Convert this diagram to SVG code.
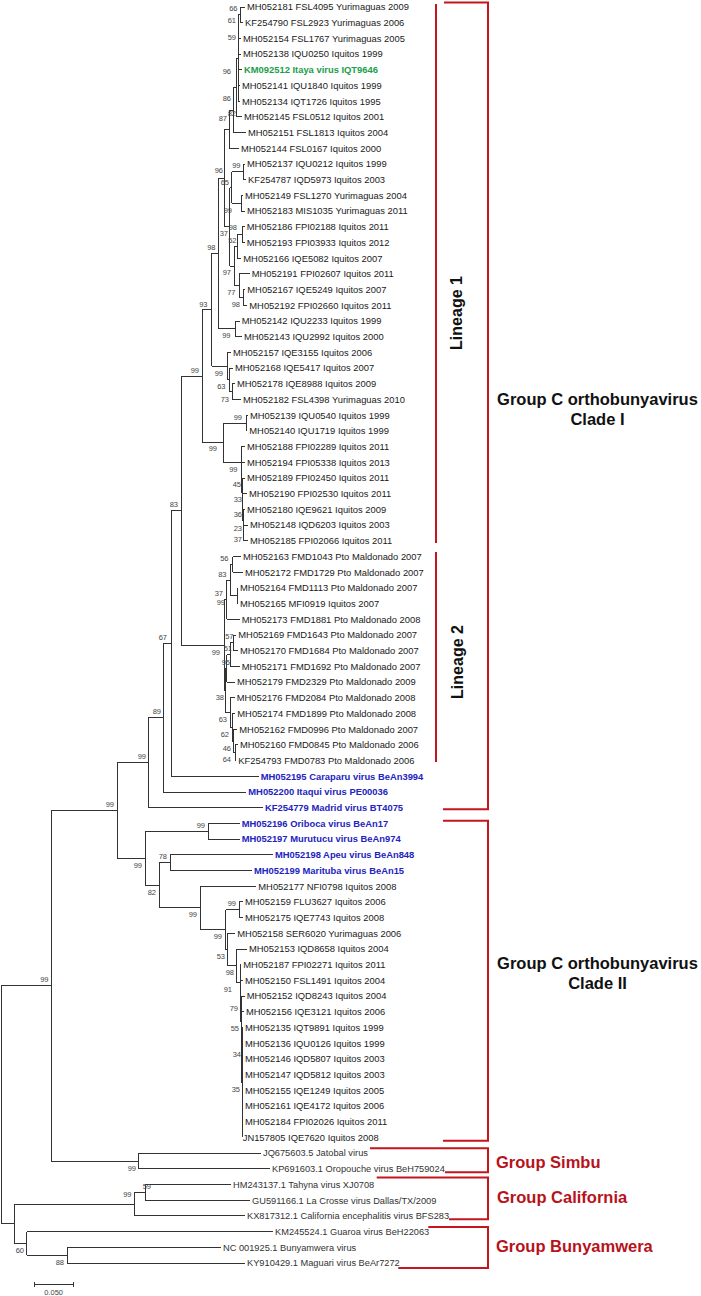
<svg xmlns="http://www.w3.org/2000/svg" width="701" height="1296" viewBox="0 0 701 1296">
<style>
text{font-family:"Liberation Sans",Arial,sans-serif}
.lf{font-size:9.4px;fill:#1a1a1a}
.lb{font-size:9.25px;fill:#333}
.bl{font-size:9.4px;font-weight:bold;fill:#2323c0}
.gr{font-size:9.4px;font-weight:bold;fill:#1a9e4a}
.bs{font-size:7.5px;fill:#444;text-anchor:end}
.grp{font-size:16.5px;font-weight:bold;fill:#111;text-anchor:middle}
.red{font-size:16.5px;font-weight:bold;fill:#b8121b}
.lin{font-size:16px;font-weight:bold;fill:#111;text-anchor:middle}
.br{fill:none;stroke:#c4161c;stroke-width:2}
</style>
<rect width="701" height="1296" fill="#fff"/>
<g id="connectors" fill="none" stroke="#333" stroke-width="1" shape-rendering="crispEdges">
<path d="M1,985.7V1223.8M1,985.7H51.3M1,1223.8H14
M51.3,810.5V1161M51.3,810.5H117M51.3,1161H138.3
M138.3,1153.1V1168.8M138.3,1153.1H261M138.3,1168.8H270
M14,1204.1V1243.4M14,1204.1H134M14,1243.4H26.7
M134,1192.4V1215.9M134,1192.4H145.3M134,1215.9H245
M145.3,1184.5V1200.2M145.3,1184.5H231M145.3,1200.2H250
M26.7,1231.6V1255.2M26.7,1231.6H273M26.7,1255.2H67
M67,1247.3V1263M67,1247.3H221M67,1263H245
M117,762.7V858.3M117,762.7H148.3M117,858.3H145.3
M148.3,717.7V807.7M148.3,717.7H163.3M148.3,807.7H263
M163.3,643.5V792M163.3,643.5H171M163.3,792H246.3
M171,510.6V776.3M171,510.6H181M171,776.3H258.7
M181,376.2V645.1M181,376.2H202M181,645.1H224.3
M202,309.8V442.6M202,309.8H211.5M202,442.6H223.3
M211.5,253.4V366.1M211.5,253.4H218.5M211.5,366.1H227
M218.5,178V328.9M218.5,178H224M218.5,328.9H235
M224,129.2V226.8M224,129.2H229M224,226.8H229.5
M229,110V148.3M229,110H233M229,148.3H239
M233,87.5V132.6M233,87.5H236M233,132.6H246
M236,58V116.9M236,58H238M236,116.9H242
M238,14.9V101.2M238,14.9H240M238,38.4H241M238,54.1H241M238,69.8H242M238,85.5H240M238,101.2H240
M240,7V22.7M240,7H245M240,22.7H243
M229.5,187.6V266.1M229.5,187.6H231.5M229.5,266.1H234
M231.5,171.9V203.3M231.5,171.9H243M231.5,203.3H241
M243,164V179.7M243,164H245M243,179.7H246
M241,195.4V211.1M241,195.4H243M241,211.1H245
M234,246.4V285.7M234,246.4H237M234,285.7H239
M237,234.7V258.2M237,234.7H242M237,258.2H241.3
M242,226.8V242.5M242,226.8H244.7M242,242.5H244.7
M239,273.9V297.5M239,273.9H249.7M239,297.5H243
M243,289.6V305.3M243,289.6H245.3M243,305.3H247.3
M235,321V336.7M235,321H239.7M235,336.7H242
M227,352.4V379.9M227,352.4H231M227,379.9H229
M229,368.1V391.7M229,368.1H233M229,391.7H232
M232,383.8V399.5M232,383.8H235M232,399.5H241
M223.3,423.1V462.1M223.3,423.1H246M223.3,462.1H241
M246,415.2V430.9M246,415.2H248M246,430.9H247.3
M241,446.6V477.5M241,446.6H245M241,477.5H241.5
M241.5,462.3V492.7M241.5,462.3H245M241.5,492.7H242
M242,478V507.4M242,478H245M242,507.4H242.5
M242.5,493.7V521.2M242.5,493.7H247M242.5,521.2H243
M243,509.4V533M243,509.4H245M243,533H243.5
M243.5,525.1V540.8M243.5,525.1H248M243.5,540.8H248
M224.3,599.7V690.4M224.3,599.7H226.5M224.3,690.4H225.5
M226.5,580.1V619.3M226.5,580.1H230M226.5,619.3H239.7
M230,564.4V595.8M230,564.4H232.5M230,595.8H237.5
M232.5,556.5V572.2M232.5,556.5H241M232.5,572.2H243
M237.5,587.9V603.6M237.5,587.9H238M237.5,603.6H238
M225.5,668.4V712.5M225.5,668.4H226.5M225.5,712.5H230
M226.5,654.6V682.1M226.5,654.6H230M226.5,682.1H235
M230,642.9V666.4M230,642.9H233M230,666.4H239.7
M233,635V650.7M233,635H236.3M233,650.7H238
M230,697.8V727.2M230,697.8H234.7M230,727.2H232
M232,713.5V741M232,713.5H235.3M232,741H233.5
M233.5,729.2V752.8M233.5,729.2H237.3M233.5,752.8H235
M235,744.9V760.6M235,744.9H238M235,760.6H236.3
M145.3,831.3V885.3M145.3,831.3H208.3M145.3,885.3H159.3
M208.3,823.4V839.1M208.3,823.4H239.7M208.3,839.1H239.7
M159.3,862.7V907.9M159.3,862.7H170.3M159.3,907.9H200.3
M170.3,854.8V870.5M170.3,854.8H273M170.3,870.5H252
M200.3,886.2V929.7M200.3,886.2H256.3M200.3,929.7H225.7
M225.7,909.8V949.6M225.7,909.8H239.3M225.7,949.6H227.5
M239.3,901.9V917.6M239.3,901.9H243M239.3,917.6H243
M227.5,933.3V965.9M227.5,933.3H235.3M227.5,965.9H236
M236,949V982.9M236,949H247M236,982.9H240
M240,964.7V1001M240,964.7H241.3M240,1001H240.5
M240.5,980.4V1021.6M240.5,980.4H243M240.5,1021.6H241
M241,996.1V1047.1M241,996.1H244.7M241,1047.1H241.5
M241.5,1011.8V1082.5M241.5,1011.8H244M241.5,1082.5H242
M242,1027.5V1137.4M242,1027.5H243M242,1043.2H243M242,1058.9H243M242,1074.6H243M242,1090.3H243M242,1106H243M242,1121.7H243"/>
</g>
<g id="scale-bar">
<path d="M34,1284.3H73.3M34,1281.5V1287M73.3,1281.5V1287" fill="none" stroke="#333" stroke-width="1" shape-rendering="crispEdges"/>
<text x="53.6" y="1295" style="font-size:7.5px;fill:#444;text-anchor:middle">0.050</text>
</g>
<g id="bootstrap">
<text class="bs" x="237.5" y="11">66</text>
<text class="bs" x="236" y="22.7">61</text>
<text class="bs" x="236" y="39.7">59</text>
<text class="bs" x="231" y="73.7">96</text>
<text class="bs" x="231" y="100.7">86</text>
<text class="bs" x="236" y="115.7">82</text>
<text class="bs" x="227" y="120.7">87</text>
<text class="bs" x="240.5" y="168">99</text>
<text class="bs" x="223" y="173">96</text>
<text class="bs" x="229" y="185">65</text>
<text class="bs" x="232" y="212.7">99</text>
<text class="bs" x="237" y="230">98</text>
<text class="bs" x="228" y="236">37</text>
<text class="bs" x="236.5" y="243">52</text>
<text class="bs" x="215.5" y="250">98</text>
<text class="bs" x="231" y="275">97</text>
<text class="bs" x="235.5" y="294.7">77</text>
<text class="bs" x="240" y="307">98</text>
<text class="bs" x="207.5" y="306.5">93</text>
<text class="bs" x="230.5" y="338">99</text>
<text class="bs" x="199" y="372.5">99</text>
<text class="bs" x="223" y="375.5">99</text>
<text class="bs" x="225.5" y="389.3">63</text>
<text class="bs" x="229" y="401.5">73</text>
<text class="bs" x="242" y="419.5">99</text>
<text class="bs" x="217" y="451">99</text>
<text class="bs" x="237.5" y="471.5">99</text>
<text class="bs" x="241" y="486.5">45</text>
<text class="bs" x="242" y="502">33</text>
<text class="bs" x="242" y="516.8">36</text>
<text class="bs" x="242" y="530.5">23</text>
<text class="bs" x="242" y="542.4">37</text>
<text class="bs" x="178" y="507">83</text>
<text class="bs" x="228.5" y="561">56</text>
<text class="bs" x="226.5" y="576.5">83</text>
<text class="bs" x="223" y="596.3">37</text>
<text class="bs" x="225" y="604.5">99</text>
<text class="bs" x="233.5" y="639.4">57</text>
<text class="bs" x="232" y="651.1">51</text>
<text class="bs" x="220" y="654.5">99</text>
<text class="bs" x="230" y="665">95</text>
<text class="bs" x="224" y="700">38</text>
<text class="bs" x="227" y="722">63</text>
<text class="bs" x="229" y="736.7">62</text>
<text class="bs" x="231" y="750.5">46</text>
<text class="bs" x="231" y="762">64</text>
<text class="bs" x="167" y="640">67</text>
<text class="bs" x="161" y="714.2">89</text>
<text class="bs" x="146" y="759.3">99</text>
<text class="bs" x="114" y="807">99</text>
<text class="bs" x="205" y="827.8">99</text>
<text class="bs" x="142" y="867.8">99</text>
<text class="bs" x="167" y="859.2">78</text>
<text class="bs" x="156" y="894.8">82</text>
<text class="bs" x="197" y="917.4">99</text>
<text class="bs" x="236" y="906.3">99</text>
<text class="bs" x="222" y="939.2">99</text>
<text class="bs" x="225" y="959.1">53</text>
<text class="bs" x="234" y="975.4">98</text>
<text class="bs" x="232" y="992.4">91</text>
<text class="bs" x="238" y="1010.5">79</text>
<text class="bs" x="239" y="1031.1">55</text>
<text class="bs" x="241" y="1056.6">34</text>
<text class="bs" x="240" y="1092">35</text>
<text class="bs" x="48.5" y="982.2">99</text>
<text class="bs" x="136" y="1170.5">99</text>
<text class="bs" x="151" y="1188.7">59</text>
<text class="bs" x="131.5" y="1196.5">99</text>
<text class="bs" x="24" y="1253">60</text>
<text class="bs" x="64" y="1264.7">88</text>
</g>
<g id="leaf-1"><text class="lf" x="247" y="10.3">MH052181 FSL4095 Yurimaguas 2009</text></g>
<g id="leaf-2"><text class="lf" x="245" y="26">KF254790 FSL2923 Yurimaguas 2006</text></g>
<g id="leaf-3"><text class="lf" x="243" y="41.7">MH052154 FSL1767 Yurimaguas 2005</text></g>
<g id="leaf-4"><text class="lf" x="243" y="57.4">MH052138 IQU0250 Iquitos 1999</text></g>
<g id="leaf-5"><text class="gr" x="244" y="73.1">KM092512 Itaya virus IQT9646</text></g>
<g id="leaf-6"><text class="lf" x="242" y="88.8">MH052141 IQU1840 Iquitos 1999</text></g>
<g id="leaf-7"><text class="lf" x="242" y="104.5">MH052134 IQT1726 Iquitos 1995</text></g>
<g id="leaf-8"><text class="lf" x="244" y="120.2">MH052145 FSL0512 Iquitos 2001</text></g>
<g id="leaf-9"><text class="lf" x="248" y="135.9">MH052151 FSL1813 Iquitos 2004</text></g>
<g id="leaf-10"><text class="lf" x="241" y="151.6">MH052144 FSL0167 Iquitos 2000</text></g>
<g id="leaf-11"><text class="lf" x="247" y="167.3">MH052137 IQU0212 Iquitos 1999</text></g>
<g id="leaf-12"><text class="lf" x="248" y="183">KF254787 IQD5973 Iquitos 2003</text></g>
<g id="leaf-13"><text class="lf" x="245" y="198.7">MH052149 FSL1270 Yurimaguas 2004</text></g>
<g id="leaf-14"><text class="lf" x="247" y="214.4">MH052183 MIS1035 Yurimaguas 2011</text></g>
<g id="leaf-15"><text class="lf" x="246.7" y="230.1">MH052186 FPI02188 Iquitos 2011</text></g>
<g id="leaf-16"><text class="lf" x="246.7" y="245.8">MH052193 FPI03933 Iquitos 2012</text></g>
<g id="leaf-17"><text class="lf" x="243.3" y="261.5">MH052166 IQE5082 Iquitos 2007</text></g>
<g id="leaf-18"><text class="lf" x="251.7" y="277.2">MH052191 FPI02607 Iquitos 2011</text></g>
<g id="leaf-19"><text class="lf" x="247.3" y="292.9">MH052167 IQE5249 Iquitos 2007</text></g>
<g id="leaf-20"><text class="lf" x="249.3" y="308.6">MH052192 FPI02660 Iquitos 2011</text></g>
<g id="leaf-21"><text class="lf" x="241.7" y="324.3">MH052142 IQU2233 Iquitos 1999</text></g>
<g id="leaf-22"><text class="lf" x="244" y="340">MH052143 IQU2992 Iquitos 2000</text></g>
<g id="leaf-23"><text class="lf" x="233" y="355.7">MH052157 IQE3155 Iquitos 2006</text></g>
<g id="leaf-24"><text class="lf" x="235" y="371.4">MH052168 IQE5417 Iquitos 2007</text></g>
<g id="leaf-25"><text class="lf" x="237" y="387.1">MH052178 IQE8988 Iquitos 2009</text></g>
<g id="leaf-26"><text class="lf" x="243" y="402.8">MH052182 FSL4398 Yurimaguas 2010</text></g>
<g id="leaf-27"><text class="lf" x="250" y="418.5">MH052139 IQU0540 Iquitos 1999</text></g>
<g id="leaf-28"><text class="lf" x="249.3" y="434.2">MH052140 IQU1719 Iquitos 1999</text></g>
<g id="leaf-29"><text class="lf" x="247" y="449.9">MH052188 FPI02289 Iquitos 2011</text></g>
<g id="leaf-30"><text class="lf" x="247" y="465.6">MH052194 FPI05338 Iquitos 2013</text></g>
<g id="leaf-31"><text class="lf" x="247" y="481.3">MH052189 FPI02450 Iquitos 2011</text></g>
<g id="leaf-32"><text class="lf" x="249" y="497">MH052190 FPI02530 Iquitos 2011</text></g>
<g id="leaf-33"><text class="lf" x="247" y="512.7">MH052180 IQE9621 Iquitos 2009</text></g>
<g id="leaf-34"><text class="lf" x="250" y="528.4">MH052148 IQD6203 Iquitos 2003</text></g>
<g id="leaf-35"><text class="lf" x="250" y="544.1">MH052185 FPI02066 Iquitos 2011</text></g>
<g id="leaf-36"><text class="lf" x="243" y="559.8">MH052163 FMD1043 Pto Maldonado 2007</text></g>
<g id="leaf-37"><text class="lf" x="245" y="575.5">MH052172 FMD1729 Pto Maldonado 2007</text></g>
<g id="leaf-38"><text class="lf" x="240" y="591.2">MH052164 FMD1113 Pto Maldonado 2007</text></g>
<g id="leaf-39"><text class="lf" x="240" y="606.9">MH052165 MFI0919 Iquitos 2007</text></g>
<g id="leaf-40"><text class="lf" x="241.7" y="622.6">MH052173 FMD1881 Pto Maldonado 2008</text></g>
<g id="leaf-41"><text class="lf" x="238.3" y="638.3">MH052169 FMD1643 Pto Maldonado 2007</text></g>
<g id="leaf-42"><text class="lf" x="240" y="654">MH052170 FMD1684 Pto Maldonado 2007</text></g>
<g id="leaf-43"><text class="lf" x="241.7" y="669.7">MH052171 FMD1692 Pto Maldonado 2007</text></g>
<g id="leaf-44"><text class="lf" x="237" y="685.4">MH052179 FMD2329 Pto Maldonado 2009</text></g>
<g id="leaf-45"><text class="lf" x="236.7" y="701.1">MH052176 FMD2084 Pto Maldonado 2008</text></g>
<g id="leaf-46"><text class="lf" x="237.3" y="716.8">MH052174 FMD1899 Pto Maldonado 2008</text></g>
<g id="leaf-47"><text class="lf" x="239.3" y="732.5">MH052162 FMD0996 Pto Maldonado 2007</text></g>
<g id="leaf-48"><text class="lf" x="240" y="748.2">MH052160 FMD0845 Pto Maldonado 2006</text></g>
<g id="leaf-49"><text class="lf" x="238.3" y="763.9">KF254793 FMD0783 Pto Maldonado 2006</text></g>
<g id="leaf-50"><text class="bl" x="260.7" y="779.6">MH052195 Caraparu virus BeAn3994</text></g>
<g id="leaf-51"><text class="bl" x="248.3" y="795.3">MH052200 Itaqui virus PE00036</text></g>
<g id="leaf-52"><text class="bl" x="265" y="811">KF254779 Madrid virus BT4075</text></g>
<g id="leaf-53"><text class="bl" x="241.7" y="826.7">MH052196 Oriboca virus BeAn17</text></g>
<g id="leaf-54"><text class="bl" x="241.7" y="842.4">MH052197 Murutucu virus BeAn974</text></g>
<g id="leaf-55"><text class="bl" x="275" y="858.1">MH052198 Apeu virus BeAn848</text></g>
<g id="leaf-56"><text class="bl" x="254" y="873.8">MH052199 Marituba virus BeAn15</text></g>
<g id="leaf-57"><text class="lf" x="258.3" y="889.5">MH052177 NFI0798 Iquitos 2008</text></g>
<g id="leaf-58"><text class="lf" x="245" y="905.2">MH052159 FLU3627 Iquitos 2006</text></g>
<g id="leaf-59"><text class="lf" x="245" y="920.9">MH052175 IQE7743 Iquitos 2008</text></g>
<g id="leaf-60"><text class="lf" x="237.3" y="936.6">MH052158 SER6020 Yurimaguas 2006</text></g>
<g id="leaf-61"><text class="lf" x="249" y="952.3">MH052153 IQD8658 Iquitos 2004</text></g>
<g id="leaf-62"><text class="lf" x="243.3" y="968">MH052187 FPI02271 Iquitos 2011</text></g>
<g id="leaf-63"><text class="lf" x="245" y="983.7">MH052150 FSL1491 Iquitos 2004</text></g>
<g id="leaf-64"><text class="lf" x="246.7" y="999.4">MH052152 IQD8243 Iquitos 2004</text></g>
<g id="leaf-65"><text class="lf" x="246" y="1015.1">MH052156 IQE3121 Iquitos 2006</text></g>
<g id="leaf-66"><text class="lf" x="245" y="1030.8">MH052135 IQT9891 Iquitos 1999</text></g>
<g id="leaf-67"><text class="lf" x="245" y="1046.5">MH052136 IQU0126 Iquitos 1999</text></g>
<g id="leaf-68"><text class="lf" x="245" y="1062.2">MH052146 IQD5807 Iquitos 2003</text></g>
<g id="leaf-69"><text class="lf" x="245" y="1077.9">MH052147 IQD5812 Iquitos 2003</text></g>
<g id="leaf-70"><text class="lf" x="245" y="1093.6">MH052155 IQE1249 Iquitos 2005</text></g>
<g id="leaf-71"><text class="lf" x="245" y="1109.3">MH052161 IQE4172 Iquitos 2006</text></g>
<g id="leaf-72"><text class="lf" x="245" y="1125">MH052184 FPI02026 Iquitos 2011</text></g>
<g id="leaf-73"><text class="lf" x="242.7" y="1140.7">JN157805 IQE7620 Iquitos 2008</text></g>
<g id="leaf-74"><text class="lb" x="263" y="1156.4">JQ675603.5 Jatobal virus</text></g>
<g id="leaf-75"><text class="lb" x="272" y="1172.1">KP691603.1 Oropouche virus BeH759024</text></g>
<g id="leaf-76"><text class="lb" x="233" y="1187.8">HM243137.1 Tahyna virus XJ0708</text></g>
<g id="leaf-77"><text class="lb" x="252" y="1203.5">GU591166.1 La Crosse virus Dallas/TX/2009</text></g>
<g id="leaf-78"><text class="lb" x="247" y="1219.2">KX817312.1 California encephalitis virus BFS283</text></g>
<g id="leaf-79"><text class="lb" x="275" y="1234.9">KM245524.1 Guaroa virus BeH22063</text></g>
<g id="leaf-80"><text class="lb" x="223" y="1250.6">NC 001925.1 Bunyamwera virus</text></g>
<g id="leaf-81"><text class="lb" x="247" y="1266.3">KY910429.1 Maguari virus BeAr7272</text></g>
<g id="lineage-1">
<path class="br" d="M436,4V543"/>
<text class="lin" transform="translate(462,313) rotate(-90)">Lineage 1</text>
</g>
<g id="lineage-2">
<path class="br" d="M436,552V762"/>
<text class="lin" transform="translate(463,662) rotate(-90)">Lineage 2</text>
</g>
<g id="clade-1">
<path class="br" d="M444,2.5H488V809.3H443"/>
<text class="grp" x="597.5" y="405">Group C orthobunyavirus</text>
<text class="grp" x="597.5" y="425">Clade I</text>
</g>
<g id="clade-2">
<path class="br" d="M443,820.7H488V1140.7H443"/>
<text class="grp" x="597.5" y="969">Group C orthobunyavirus</text>
<text class="grp" x="597.5" y="989">Clade II</text>
</g>
<g id="group-simbu">
<path class="br" d="M370,1148.3H488V1172.3H445"/>
<text class="red" x="496" y="1168">Group Simbu</text>
</g>
<g id="group-california">
<path class="br" d="M376.7,1177.5H488V1219.3H449"/>
<text class="red" x="497" y="1203.3">Group California</text>
</g>
<g id="group-bunyamwera">
<path class="br" d="M428.3,1227H488V1268H398.3"/>
<text class="red" x="496" y="1251.7">Group Bunyamwera</text>
</g>
</svg>
